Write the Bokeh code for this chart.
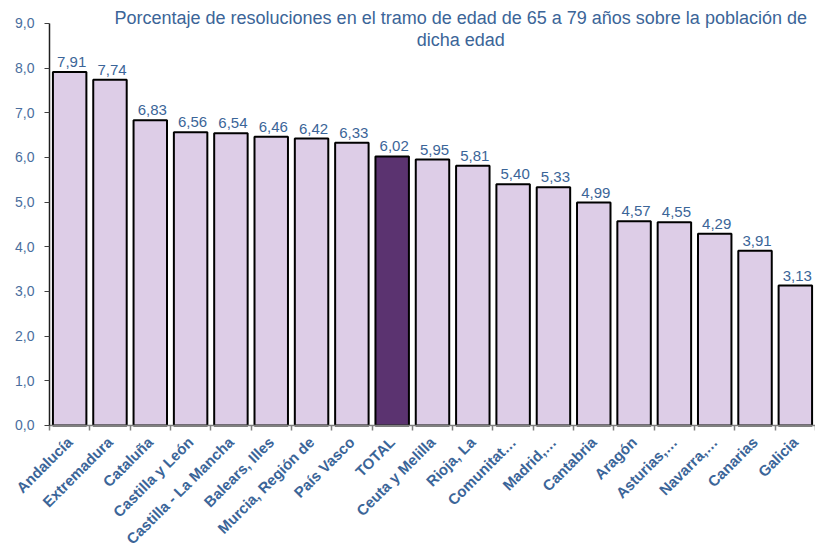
from math import pi
from bokeh.plotting import figure
from bokeh.models import ColumnDataSource, Range1d, FixedTicker, Label, LabelSet
from bokeh.core.properties import value
from bokeh.embed import file_html
from bokeh.resources import INLINE

categories = ["Andalucía", "Extremadura", "Cataluña", "Castilla y León",
              "Castilla - La Mancha", "Balears, Illes", "Murcia, Región de",
              "País Vasco", "TOTAL", "Ceuta y Melilla", "Rioja, La",
              "Comunitat…", "Madrid,…", "Cantabria", "Aragón", "Asturias,…",
              "Navarra,…", "Canarias", "Galicia"]
values = [7.91, 7.74, 6.83, 6.56, 6.54, 6.46, 6.42, 6.33, 6.02, 5.95, 5.81,
          5.40, 5.33, 4.99, 4.57, 4.55, 4.29, 3.91, 3.13]
y_ticks = [0, 1, 2, 3, 4, 5, 6, 7, 8, 9]
title_lines = ["Porcentaje de resoluciones en el tramo de edad de 65 a 79 años sobre la población de",
               "dicha edad"]

LIGHT = "#DDCDE7"
DARK = "#5B3370"
BLUE = "#3B6598"
FONT = "Liberation Sans"

n = len(categories)
xs = list(range(n))
colors = [DARK if c == "TOTAL" else LIGHT for c in categories]
labels = [f"{v:.2f}".replace(".", ",") for v in values]
source = ColumnDataSource(dict(x=xs, top=values, color=colors, label=labels))

W, H = 815, 550
LEFT_PX = 49
unit = (W - LEFT_PX) / n
x_start = -0.5 - LEFT_PX / unit

p = figure(width=W, height=H, output_backend="svg", toolbar_location=None,
           x_range=Range1d(x_start, n - 0.5), y_range=Range1d(-2.8, 9.4),
           min_border_left=0, min_border_right=0, min_border_top=5,
           min_border_bottom=0)
p.outline_line_color = None
p.xgrid.visible = False
p.ygrid.visible = False

p.vbar(x="x", top="top", width=0.83, source=source, fill_color="color",
       line_color="black", line_width=2)

p.add_layout(LabelSet(x="x", y="top", text="label", source=source,
                      text_align="center", text_baseline="bottom", y_offset=5,
                      x_offset=2, text_font=value(FONT), text_font_size="15px",
                      text_color=BLUE))

# Axes
p.xaxis.fixed_location = 0
p.xaxis.bounds = (-0.5, n - 0.5)
p.xaxis.ticker = FixedTicker(ticks=xs, minor_ticks=[i - 0.5 for i in range(n + 1)])
p.xaxis.major_label_overrides = {i: c for i, c in enumerate(categories)}
p.xaxis.major_label_orientation = pi / 4
p.xaxis.major_tick_line_color = None
p.xaxis.minor_tick_in = 0
p.xaxis.minor_tick_out = 5
p.xaxis.minor_tick_line_color = "#808080"
p.xaxis.minor_tick_line_width = 1.5
p.xaxis.axis_line_color = "#808080"
p.xaxis.axis_line_width = 1.5
p.xaxis.major_label_text_font = FONT
p.xaxis.major_label_text_font_style = "bold"
p.xaxis.major_label_text_font_size = "15px"
p.xaxis.major_label_text_color = BLUE
p.xaxis.major_label_standoff = 8

p.yaxis.fixed_location = -0.5
p.yaxis.ticker = FixedTicker(ticks=y_ticks)
p.yaxis.bounds = (0, 9)
p.yaxis.major_label_overrides = {t: f"{t:.1f}".replace(".", ",") for t in y_ticks}
p.yaxis.minor_tick_line_color = None
p.yaxis.major_tick_in = 0
p.yaxis.major_tick_out = 5
p.yaxis.major_tick_line_color = "#404040"
p.yaxis.axis_line_color = "#202020"
p.yaxis.axis_line_width = 1.5
p.yaxis.major_label_text_font = FONT
p.yaxis.major_label_text_font_size = "14px"
p.yaxis.major_label_text_color = "#4A6E9E"
p.yaxis.major_label_standoff = 10

p.add_layout(Label(x=9.7, y=9.11, text=title_lines[0], text_align="center",
                   text_baseline="middle", text_font=FONT,
                   text_font_size="18px", text_color=BLUE))
p.add_layout(Label(x=9.7, y=8.62, text=title_lines[1], text_align="center",
                   text_baseline="middle", text_font=FONT,
                   text_font_size="18px", text_color=BLUE))

open("out.html", "w").write(file_html(p, INLINE))
